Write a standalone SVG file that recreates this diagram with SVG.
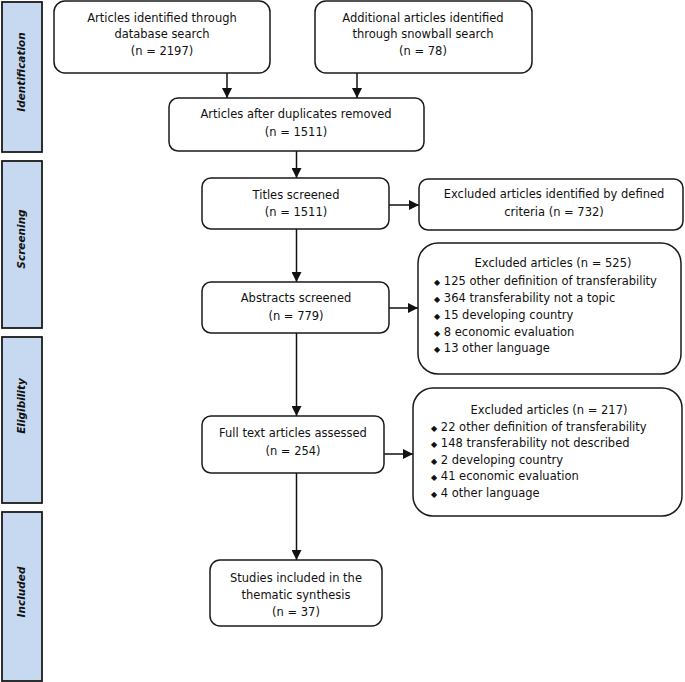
<svg xmlns="http://www.w3.org/2000/svg" width="685" height="682" viewBox="0 0 685 682">
<defs>
<style>
.box{fill:#fff;stroke:#1a1a1a;stroke-width:1.5}
.side{fill:#c6d9f0;stroke:#1a1a1a;stroke-width:1.8}
.t{font-family:"DejaVu Sans","Verdana",sans-serif;font-size:11.5px;fill:#111}
.c{text-anchor:middle}
.st{font-family:"DejaVu Sans","Verdana",sans-serif;font-size:10.5px;font-weight:bold;font-style:italic;fill:#111;text-anchor:middle}
.ln{fill:none;stroke:#111;stroke-width:1.5}
.b{font-size:8px}
</style>
<marker id="ah" viewBox="0 0 10 10" refX="10" refY="5" markerWidth="10" markerHeight="10" markerUnits="userSpaceOnUse" orient="auto">
<path d="M0,0 L10,5 L0,10 z" fill="#111"/>
</marker>
</defs>
<g id="phases">
<g id="phase-identification"><rect class="side" x="2" y="2" width="40" height="150"/><text class="st" transform="translate(25,72) rotate(-90)">Identification</text></g>
<g id="phase-screening"><rect class="side" x="2" y="161" width="40" height="167"/><text class="st" transform="translate(25,239) rotate(-90)">Screening</text></g>
<g id="phase-eligibility"><rect class="side" x="2" y="337" width="40" height="166"/><text class="st" transform="translate(25,406) rotate(-90)">Eligibility</text></g>
<g id="phase-included"><rect class="side" x="2" y="512" width="40" height="169"/><text class="st" transform="translate(25,592) rotate(-90)">Included</text></g>
</g>
<g id="connectors">
<line class="ln" x1="227" y1="73" x2="227" y2="98" marker-end="url(#ah)"/>
<line class="ln" x1="357" y1="73" x2="357" y2="98" marker-end="url(#ah)"/>
<line class="ln" x1="296.5" y1="151" x2="296.5" y2="178" marker-end="url(#ah)"/>
<line class="ln" x1="389" y1="205" x2="419" y2="205" marker-end="url(#ah)"/>
<line class="ln" x1="296.5" y1="229" x2="296.5" y2="282" marker-end="url(#ah)"/>
<line class="ln" x1="389" y1="308" x2="418" y2="308" marker-end="url(#ah)"/>
<line class="ln" x1="296.5" y1="333" x2="296.5" y2="416" marker-end="url(#ah)"/>
<line class="ln" x1="384" y1="454" x2="413" y2="454" marker-end="url(#ah)"/>
<line class="ln" x1="296.5" y1="473" x2="296.5" y2="560" marker-end="url(#ah)"/>
</g>
<g id="n-database">
<rect class="box" x="54" y="1" width="216" height="72" rx="11"/>
<text class="t c" x="162" y="22">Articles identified through</text>
<text class="t c" x="162" y="38">database search</text>
<text class="t c" x="162" y="55">(n = 2197)</text>
</g>
<g id="n-snowball">
<rect class="box" x="315" y="1" width="217" height="72" rx="11"/>
<text class="t c" x="423" y="22">Additional articles identified</text>
<text class="t c" x="423" y="38">through snowball search</text>
<text class="t c" x="423" y="55">(n = 78)</text>
</g>
<g id="n-duplicates">
<rect class="box" x="169" y="98" width="255" height="53" rx="9"/>
<text class="t c" x="296" y="118">Articles after duplicates removed</text>
<text class="t c" x="296" y="136">(n = 1511)</text>
</g>
<g id="n-titles">
<rect class="box" x="202" y="178" width="187" height="51" rx="9"/>
<text class="t c" x="296" y="199">Titles screened</text>
<text class="t c" x="296" y="216">(n = 1511)</text>
</g>
<g id="n-excl-732">
<rect class="box" x="419" y="179" width="264" height="51" rx="9"/>
<text class="t c" x="554" y="198">Excluded articles identified by defined</text>
<text class="t c" x="554" y="216">criteria (n = 732)</text>
</g>
<g id="n-abstracts">
<rect class="box" x="202" y="282" width="187" height="51" rx="9"/>
<text class="t c" x="296" y="302">Abstracts screened</text>
<text class="t c" x="296" y="320">(n = 779)</text>
</g>
<g id="n-excl-525">
<rect class="box" x="418" y="243" width="263" height="131" rx="20"/>
<text class="t c" x="553" y="267">Excluded articles (n = 525)</text>
<text class="t" x="434" y="285"><tspan class="b">◆</tspan> 125 other definition of transferability</text>
<text class="t" x="434" y="302"><tspan class="b">◆</tspan> 364 transferability not a topic</text>
<text class="t" x="434" y="319"><tspan class="b">◆</tspan> 15 developing country</text>
<text class="t" x="434" y="336"><tspan class="b">◆</tspan> 8 economic evaluation</text>
<text class="t" x="434" y="352"><tspan class="b">◆</tspan> 13 other language</text>
</g>
<g id="n-fulltext">
<rect class="box" x="202" y="416" width="182" height="57" rx="9"/>
<text class="t c" x="293" y="437">Full text articles assessed</text>
<text class="t c" x="293" y="455">(n = 254)</text>
</g>
<g id="n-excl-217">
<rect class="box" x="413" y="388" width="269" height="128" rx="20"/>
<text class="t c" x="549" y="414">Excluded articles (n = 217)</text>
<text class="t" x="431" y="431"><tspan class="b">◆</tspan> 22 other definition of transferability</text>
<text class="t" x="431" y="447"><tspan class="b">◆</tspan> 148 transferability not described</text>
<text class="t" x="431" y="464"><tspan class="b">◆</tspan> 2 developing country</text>
<text class="t" x="431" y="480"><tspan class="b">◆</tspan> 41 economic evaluation</text>
<text class="t" x="431" y="497"><tspan class="b">◆</tspan> 4 other language</text>
</g>
<g id="n-included">
<rect class="box" x="210" y="560" width="172" height="66" rx="10"/>
<text class="t c" x="296" y="582">Studies included in the</text>
<text class="t c" x="296" y="599">thematic synthesis</text>
<text class="t c" x="296" y="616">(n = 37)</text>
</g>
</svg>
